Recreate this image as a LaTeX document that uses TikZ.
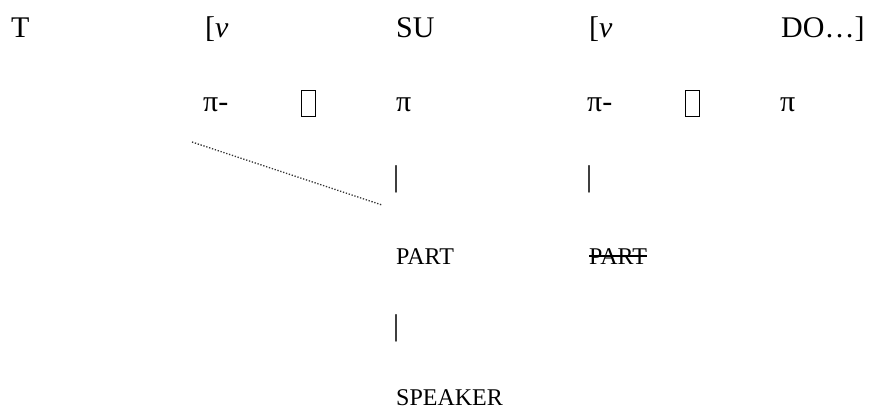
\documentclass[tikz,border=0pt]{standalone}
\usepackage{fontspec}
\setmainfont{Liberation Serif}
\begin{document}
\begin{tikzpicture}[x=1pt,y=-1pt,
  big/.style={inner sep=0pt,anchor=base west,font=\fontsize{30}{36}\selectfont},
  small/.style={inner sep=0pt,anchor=base west,font=\fontsize{24}{29}\selectfont},
  tofu/.style={draw,line width=1.1pt,minimum width=14pt,minimum height=26pt,inner sep=0pt,anchor=south west},
  dotline/.style={line width=1.3pt,dash pattern=on 1.3pt off 1.7pt,black!80}]
\useasboundingbox (0,0) rectangle (869,409);
% row 1
\node[big] (T) at (11,38) {T};
\node[big] (v1) at (205,38) {[\textit{v}};
\node[big] (SU) at (396,38) {SU};
\node[big] (v2) at (589,38) {[\textit{v}};
\node[big] (DO) at (781,38) {DO…]};
% row 2
\node[big] (p1) at (203,112) {π-};
\node[tofu] (b1) at (301,117) {};
\node[big] (p2) at (396,112) {π};
\node[big] (p3) at (587,112) {π-};
\node[tofu] (b2) at (685,117) {};
\node[big] (p4) at (780,112) {π};
% row 3
\node[big] (bar1) at (393,186) {|};
\node[big] (bar2) at (586,186) {|};
% row 4
\node[small] (part1) at (396,264) {PART};
\node[small] (part2) at (589,264) {PART};
\draw[line width=1.2pt] ([yshift=8pt]part2.base west) -- ([yshift=8pt]part2.base east);
% row 5
\node[big] (bar3) at (393,335) {|};
% row 6
\node[small] (spk) at (396,405) {SPEAKER};
% dotted link
\coordinate (d1) at (192,142);
\coordinate (d2) at (382,205);
\draw[dotline] (d1) -- (d2);
\end{tikzpicture}
\end{document}
